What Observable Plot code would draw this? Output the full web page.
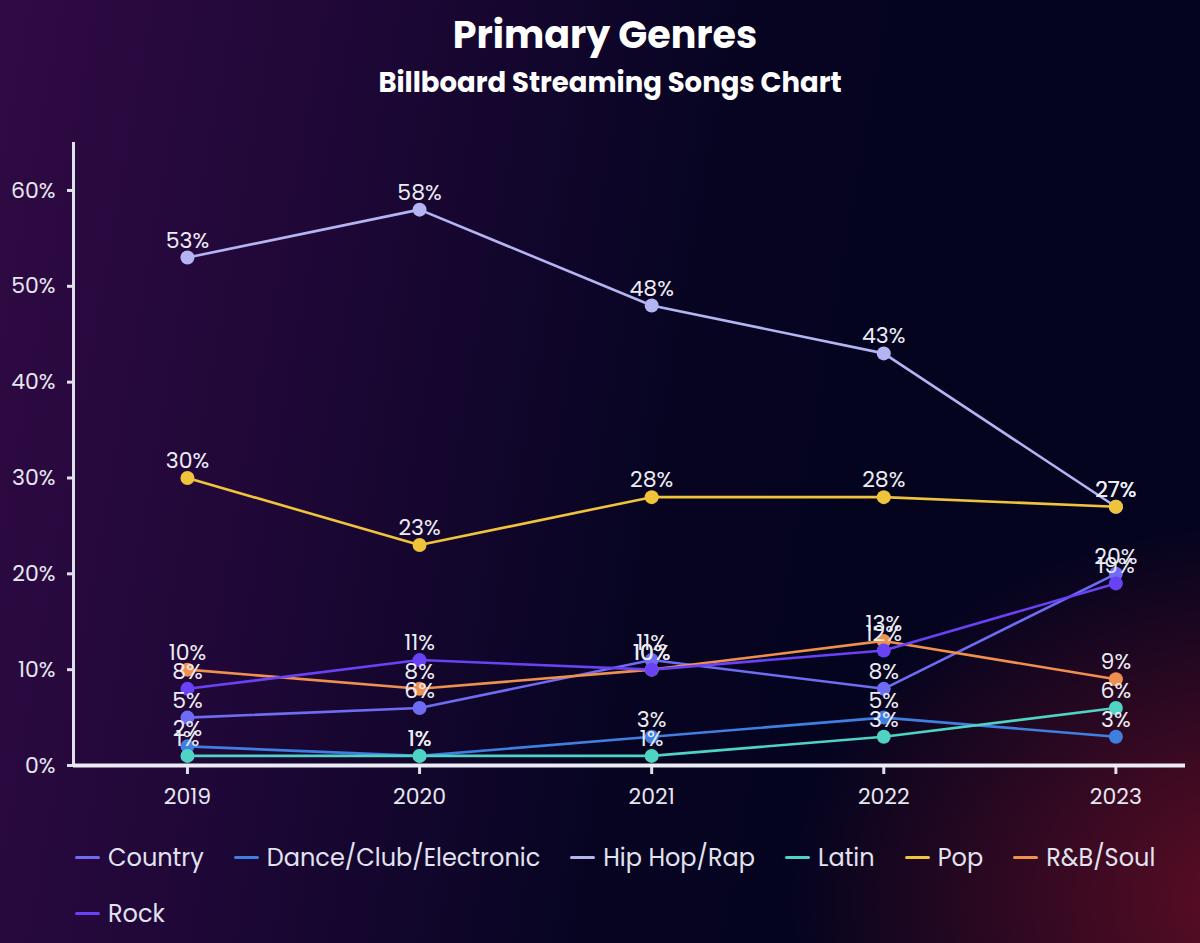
<!DOCTYPE html>
<html>
<head>
<meta charset="utf-8">
<script src="https://cdn.jsdelivr.net/npm/d3@7"></script>
<script src="https://cdn.jsdelivr.net/npm/@observablehq/plot@0.6"></script>
<style>
  html, body { margin:0; padding:0; }
  body {
    width:1200px; height:943px; overflow:hidden; position:relative;
    font-family: "Poppins", "Open Sans", "Inter", sans-serif;
    background:
      radial-gradient(ellipse 650px 520px at 1260px 900px, rgba(100,14,36,0.95), rgba(100,14,36,0) 72%),
      linear-gradient(100deg, rgba(48,10,68,1) 0%, rgba(36,8,60,0.85) 25%, rgba(10,5,40,0.3) 55%, rgba(5,4,32,0) 70%),
      #05041f;
    color:#fff;
  }
  #title { position:absolute; top:6px; left:0; width:1210px; text-align:center; font-size:38px; font-weight:700; }
  #subtitle { position:absolute; top:62px; left:0; width:1220px; text-align:center; font-size:27.5px; font-weight:700; }
  #chart { position:absolute; top:130px; left:0; }
  #legend { position:absolute; top:838px; left:75px; width:1110px; display:flex; flex-wrap:wrap; column-gap:30px; row-gap:18px; font-size:24px; color:#e2e2f0; }
  .item { display:flex; align-items:center; height:38px; }
  .sw { width:25px; height:3px; border-radius:2px; margin-right:8px; }
</style>
</head>
<body>
<div id="title">Primary Genres</div>
<div id="subtitle">Billboard Streaming Songs Chart</div>
<div id="chart"></div>
<div id="legend"></div>
<script>
const years = [2019, 2020, 2021, 2022, 2023];
const genres = ["Country", "Dance/Club/Electronic", "Hip Hop/Rap", "Latin", "Pop", "R&B/Soul", "Rock"];
const colors = ["#6d6cf2", "#3f7fe2", "#b4b4f2", "#4fd3c2", "#f0c33c", "#f0904e", "#6a42f5"];
const country = [5, 6, 11, 8, 20];
const dance   = [2, 1, 3, 5, 3];
const hiphop  = [53, 58, 48, 43, 27];
const latin   = [1, 1, 1, 3, 6];
const pop     = [30, 23, 28, 28, 27];
const rnb     = [10, 8, 10, 13, 9];
const rock    = [8, 11, 10, 12, 19];
const yTicks  = [0, 10, 20, 30, 40, 50, 60];

const series = [country, dance, hiphop, latin, pop, rnb, rock];
const data = [];
series.forEach((vals, i) => vals.forEach((v, j) => data.push({genre: genres[i], year: years[j], value: v})));

const plot = Plot.plot({
  width: 1200,
  height: 700,
  marginTop: 13,
  marginBottom: 65,
  marginLeft: 73,
  marginRight: 15,
  style: {background: "transparent", color: "#e6e6f0", fontFamily: "Poppins, 'Open Sans', sans-serif", fontSize: "22px"},
  x: {domain: [2018.509, 2023.30], ticks: years, tickFormat: d => String(d)},
  y: {domain: [0, 64.9], ticks: yTicks, tickFormat: d => d + "%"},
  color: {domain: genres, range: colors},
  marks: [
    Plot.frame({anchor: "left", stroke: "#e0e0ea", strokeWidth: 3}),
    Plot.axisY({ticks: yTicks, tickFormat: d => d + "%", tickSize: 6, tickPadding: 12, stroke: "#e0e0ea", strokeWidth: 3, fill: "#e6e6f0", fontSize: 22, label: null}),
    Plot.axisX({ticks: years, tickFormat: d => String(d), tickSize: 9, tickPadding: 14, stroke: "#e0e0ea", strokeWidth: 3, fill: "#e6e6f0", fontSize: 22, label: null}),
    Plot.ruleY([0], {stroke: "#ececf4", strokeWidth: 4}),
    Plot.line(data, {x: "year", y: "value", z: "genre", stroke: "genre", strokeWidth: 2.6}),
    Plot.dot(data, {x: "year", y: "value", fill: "genre", r: 7}),
    Plot.text(data, {x: "year", y: "value", text: d => d.value + "%", dy: -17, fill: "#ececf4", fontSize: 22})
  ]
});
document.getElementById("chart").appendChild(plot);

const leg = document.getElementById("legend");
genres.forEach((g, i) => {
  const it = document.createElement("div");
  it.className = "item";
  const sw = document.createElement("span");
  sw.className = "sw";
  sw.style.background = colors[i];
  const t = document.createElement("span");
  t.textContent = g;
  it.appendChild(sw); it.appendChild(t);
  leg.appendChild(it);
});
</script>
</body>
</html>
